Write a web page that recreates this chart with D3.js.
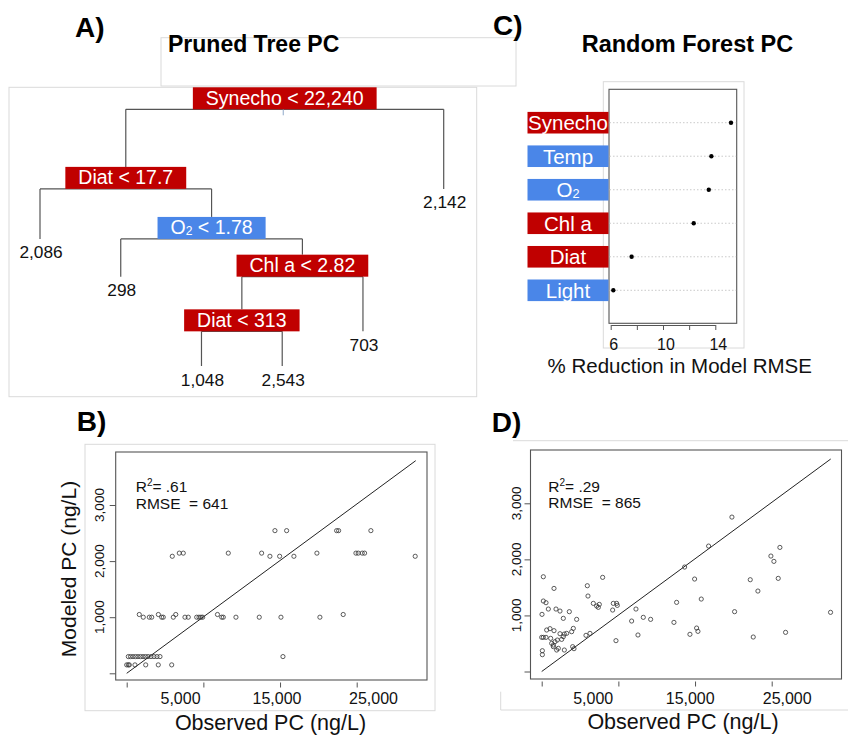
<!DOCTYPE html>
<html><head><meta charset="utf-8">
<script src="https://cdn.jsdelivr.net/npm/d3@7"></script>
<style>
body{margin:0;background:#fff;}
svg{display:block;font-family:"Liberation Sans",Arial,Helvetica,sans-serif;}
</style></head><body>
<svg id="chart" width="848" height="735"></svg>
<script>
// ================= DATA =================
// Panel A – pruned regression tree (pre-order, left child first)
const treeIds        = ["root","diat1","leaf2086","o2","leaf298","chla","diat2","leaf1048","leaf2543","leaf703","leaf2142"];
const treeParents    = [null,"root","diat1","diat1","o2","o2","chla","diat2","diat2","chla","root"];
const treeSplitVar   = ["Synecho","Diat",null,"O2",null,"Chl a","Diat",null,null,null,null];
const treeSplitValue = ["22,240","17.7",null,"1.78",null,"2.82","313",null,null,null,null];
const treeLeafValue  = [null,null,"2,086",null,"298",null,null,"1,048","2,543","703","2,142"];
const treeNodeLevel  = [1.0,0.69,0.495,0.495,0.348,0.348,0.135,0,0,0.135,0.69];

// Panel C – random forest variable importance
const rfVars       = ["Synecho","Temp","O2","Chl a","Diat","Light"];
const rfImportance = [15.2,13.7,13.5,12.35,7.6,6.2];
const rfTicks      = [6,8,10,12,14];
const rfTickLabels = [6,10,14];

// variable class: biological (red) vs environmental (blue)
const bioVars = ["Synecho","Diat","Chl a"];

// Panel B – pruned tree: observed vs modeled PC (ng/L)
const treeObs = [19335,20860,27380,27640,31850,
  6860,7380,13250,17600,24810,29900,30200,30720,31030,
  5945,18680,19950,21810,37630,
  1640,4130,6400,11840,28240,
  2160,2950,3260,4560,4770,6080,7600,8030,9130,9430,9690,9910,12390,12600,14250,17290,20120,25200,
  210,500,820,1150,1470,1800,2130,2450,2780,3170,3560,3950,4340,20380,
  0,210,340,1080,2480,4120,5870];
const treeMod = [2543,2543,2543,2543,2543,
  2142,2142,2142,2142,2142,2142,2142,2142,2142,
  2086,2086,2086,2086,2086,
  1048,1048,1048,1048,1048,
  1000,1000,1000,1000,1000,1000,1000,1000,1000,1000,1000,1000,1000,1000,1000,1000,1000,1000,
  298,298,298,298,298,298,298,298,298,298,298,298,298,298,
  150,150,150,150,150,150,150];

// Panel D – random forest: observed vs modeled PC (ng/L)
const rfObs = [213,1604,213,561,39,865,1864,2386,2820,3603,
  4559,648,1082,1604,2386,2951,3255,3907,4124,0,
  213,561,1169,1300,1517,1734,2038,2603,2820,1517,
  2169,1951,2951,4037,4211,87,87,5950,6037,6732,
  7167,7384,7514,7949,5776,6297,9253,9339,9774,9861,
  9687,11730,12295,12556,13251,14207,17249,17597,18640,19335,
  19944,20205,20378,20813,21769,24811,25159,27201,27593,28201,
  29896,30287,30852,31069,31809,37676];
const rfMod = [1690,1482,1257,1227,1019,1114,1114,1078,948,1067,
  930,740,764,728,674,668,680,710,769,609,
  609,609,591,502,472,532,561,573,621,443,
  413,383,383,443,407,371,300,1530,1346,1215,
  1168,1144,1197,1679,645,680,1096,1215,1215,1179,
  550,900,1114,651,966,930,876,1233,1863,663,
  1649,775,716,1292,2237,2754,1067,1637,615,1435,
  2059,1964,1661,2213,698,1055];

// reference line endpoints (observed, modeled)
const refLineObs = [0, 37700];
const refLineMod = [0, 3790];

// axis ticks
const xTickValues = [0,10000,20000,30000];
const xTickLabels = [5000,15000,25000];
const yTickValues = [0,1000,2000,3000];
const yTickLabels = [1000,2000,3000];
const statsTree = [".61","641"];
const statsRF   = [".29","865"];

// ================= DRAWING =================
const svg = d3.select("#chart");
const RED = "#C00000", BLUE = "#4A86E8", FAINT = "#dadada", INK = "#222";
const colorOf = v => bioVars.includes(v) ? RED : BLUE;
const fmt = d3.format(",");

function faintLine(x0,y0,x1,y1){
  svg.append("line").attr("x1",x0).attr("y1",y0).attr("x2",x1).attr("y2",y1)
    .attr("stroke",FAINT).attr("stroke-width",1);
}
function faintRect(x0,y0,x1,y1){
  svg.append("rect").attr("x",x0).attr("y",y0).attr("width",x1-x0).attr("height",y1-y0)
    .attr("fill","none").attr("stroke",FAINT).attr("stroke-width",1);
}
function varText(sel, name){
  if(name === "O2"){
    sel.append("tspan").text("O");
    sel.append("tspan").attr("font-size","0.62em").attr("dy",1).text("2");
    return -1;
  }
  sel.append("tspan").text(name);
  return 0;
}

// faint frames
faintRect(161,37.7,516,86);
faintRect(9,87.3,476.7,396.7);
faintRect(603.3,81.7,744,348);
faintRect(85,444.3,435,710.7);
faintLine(513,440.7,848,440.7);
faintLine(500.7,710,848,710);
faintLine(500.7,691.7,500.7,710);

// panel letters & titles
[["A)",75,36.7],["C)",493,35],["B)",76.7,431],["D)",491.7,432]].forEach(([t,x,y])=>{
  svg.append("text").attr("x",x).attr("y",y).attr("font-size",28).attr("font-weight","bold")
    .attr("fill","#000").text(t);
});
svg.append("text").attr("x",168).attr("y",51.7).attr("font-size",23).attr("font-weight","bold").text("Pruned Tree PC");
svg.append("text").attr("x",581.7).attr("y",51.7).attr("font-size",23.5).attr("font-weight","bold").text("Random Forest PC");

// ---------- Panel A: tree ----------
const treeTable = treeIds.map((id,i)=>({id, parent:treeParents[i], v:treeSplitVar[i], t:treeSplitValue[i],
  leaf:treeLeafValue[i], level:treeNodeLevel[i]}));
const troot = d3.stratify().id(d=>d.id).parentId(d=>d.parent)(treeTable);
d3.cluster().size([1,1]).separation(()=>1)(troot);
const tx = d3.scaleLinear().domain(d3.extent(troot.leaves(), d=>d.x)).range([40,443.7]);
const ty = d3.scaleLinear().domain([0,1]).range([366,109.3]);
const boxH = 22;
const gA = svg.append("g");
troot.each(n=>{
  if(!n.children) return;
  const yb = ty(n.data.level);
  gA.append("line").attr("x1",tx(n.children[0].x)).attr("x2",tx(n.children[n.children.length-1].x))
    .attr("y1",yb).attr("y2",yb).attr("stroke","#555").attr("stroke-width",1.2);
  n.children.forEach(c=>{
    const yEnd = c.children ? ty(c.data.level)-boxH : ty(c.data.level);
    gA.append("line").attr("x1",tx(c.x)).attr("x2",tx(c.x)).attr("y1",yb).attr("y2",yEnd)
      .attr("stroke","#555").attr("stroke-width",1.2);
  });
});
// small tick under root
gA.append("line").attr("x1",tx(troot.x)-1.5).attr("x2",tx(troot.x)-1.5)
  .attr("y1",ty(troot.data.level)).attr("y2",ty(troot.data.level)+6)
  .attr("stroke","#8fa9c9").attr("stroke-width",1);
// split boxes
troot.each(n=>{
  if(!n.children) return;
  const cx = tx(n.x), yb = ty(n.data.level);
  const g = gA.append("g");
  const rect = g.append("rect");
  const t = g.append("text").attr("x",cx).attr("y",yb-4.5).attr("text-anchor","middle")
    .attr("font-size",19.5).attr("fill","#fff");
  const dyBack = varText(t, n.data.v);
  t.append("tspan").attr("dy",dyBack).text(" < " + n.data.t);
  const w = t.node().getComputedTextLength() + 26;
  rect.attr("x",cx-w/2).attr("y",yb-boxH).attr("width",w).attr("height",boxH).attr("fill",colorOf(n.data.v));
});
// leaves
troot.leaves().forEach(l=>{
  gA.append("text").attr("x",tx(l.x)+1).attr("y",ty(l.data.level)+19.5).attr("text-anchor","middle")
    .attr("font-size",17.3).attr("fill","#111").text(l.data.leaf);
});

// ---------- Panel C: importance dot chart ----------
const cx = d3.scaleLinear().domain([6,14]).range([610.7,715.3]);
const cy = d3.scalePoint().domain(rfVars).range([122.7,290.3]);
const gC = svg.append("g");
gC.append("rect").attr("x",609).attr("y",89.3).attr("width",736.7-609).attr("height",323.3-89.3)
  .attr("fill","none").attr("stroke","#555").attr("stroke-width",1.1);
rfVars.forEach((v,i)=>{
  const y = cy(v);
  gC.append("line").attr("x1",609.5).attr("x2",736.2).attr("y1",y).attr("y2",y)
    .attr("stroke","#c4c4c4").attr("stroke-dasharray","1.5,2").attr("stroke-width",0.9);
  gC.append("rect").attr("x",527.5).attr("y",y-10.8).attr("width",81).attr("height",21.6).attr("fill",colorOf(v));
  const t = gC.append("text").attr("x",568).attr("y",y+7.3).attr("text-anchor","middle")
    .attr("font-size",20.5).attr("fill","#fff");
  varText(t, v);
  gC.append("circle").attr("cx",cx(rfImportance[i])).attr("cy",y).attr("r",2.2).attr("fill","#000");
});
const cAxisScale = cx.copy();
const gCax = gC.append("g").attr("transform","translate(0,325)")
  .call(d3.axisBottom(cAxisScale).tickValues(rfTicks).tickSize(5).tickSizeOuter(0)
    .tickFormat(d=> rfTickLabels.includes(d) ? d : ""));
gCax.select(".domain").attr("stroke","#555");
gCax.selectAll(".tick line").attr("stroke","#555");
gCax.selectAll(".tick text").attr("font-size",16).attr("font-family",null).attr("fill","#111")
  .attr("y",25).attr("dy",0).attr("dx",2.5);
gC.append("text").attr("x",679.7).attr("y",372.7).attr("text-anchor","middle").attr("font-size",20.5)
  .attr("fill","#111").text("% Reduction in Model RMSE");

// ---------- Scatter panels ----------
function scatter(o){
  const g = svg.append("g");
  const x = d3.scaleLinear().domain([0,30000]).range(o.xr);
  const y = d3.scaleLinear().domain([0,3000]).range(o.yr);
  const xl = d3.scaleLinear().domain([5000,25000]).range(o.xlab);
  const [bx0,by0,bx1,by1] = o.box;
  g.append("rect").attr("x",bx0).attr("y",by0).attr("width",bx1-bx0).attr("height",by1-by0)
    .attr("fill","none").attr("stroke","#555").attr("stroke-width",1.1);
  // x ticks
  const gx = g.append("g").attr("transform",`translate(0,${by1+2.5})`)
    .call(d3.axisBottom(x).tickValues(xTickValues).tickSize(5).tickFormat(""));
  gx.select(".domain").remove();
  gx.selectAll(".tick line").attr("stroke","#555");
  // x tick labels
  const gxl = g.append("g").attr("transform",`translate(0,${o.xLabBase})`)
    .call(d3.axisBottom(xl).tickValues(xTickLabels).tickSize(0).tickFormat(fmt));
  gxl.select(".domain").remove();
  gxl.selectAll(".tick text").attr("y",0).attr("dy",0).attr("font-size",16).attr("font-family",null).attr("fill","#111");
  // y ticks
  const gy = g.append("g").attr("transform",`translate(${bx0},0)`)
    .call(d3.axisLeft(y).tickValues(yTickValues).tickSize(6).tickFormat(""));
  gy.select(".domain").remove();
  gy.selectAll(".tick line").attr("stroke","#555");
  // y tick labels (rotated)
  yTickLabels.forEach(v=>{
    g.append("text").attr("transform",`translate(${o.yLabBase},${y(v)}) rotate(-90)`)
      .attr("text-anchor","middle").attr("font-size",13.5).attr("fill","#111").text(fmt(v));
  });
  // reference line
  g.append("path").datum(refLineObs.map((v,i)=>[v,refLineMod[i]]))
    .attr("d",d3.line().x(d=>x(d[0])).y(d=>y(d[1])))
    .attr("stroke","#222").attr("stroke-width",1).attr("fill","none");
  // points
  g.selectAll("circle.pt").data(o.obs.map((v,i)=>[v,o.mod[i]])).join("circle").attr("class","pt")
    .attr("cx",d=>x(d[0])).attr("cy",d=>y(d[1])).attr("r",2.1)
    .attr("fill","none").attr("stroke","#333").attr("stroke-width",0.8);
  // stats
  const s1 = g.append("text").attr("x",o.statX).attr("y",o.statY[0]).attr("font-size",15.5).attr("fill","#111");
  s1.append("tspan").text("R");
  s1.append("tspan").attr("font-size",10).attr("dy",-6).text("2");
  s1.append("tspan").attr("dy",6).text("= " + o.stats[0]);
  g.append("text").attr("x",o.statX).attr("y",o.statY[1]).attr("font-size",15.5).attr("fill","#111")
    .style("white-space","pre").text("RMSE  = " + o.stats[1]);
  // axis titles
  g.append("text").attr("x",o.xTitle[0]).attr("y",o.xTitle[1]).attr("text-anchor","middle")
    .attr("font-size",21.5).attr("fill","#111").text("Observed PC (ng/L)");
  if(o.yTitle){
    g.append("text").attr("transform",`translate(${o.yTitle[0]},${o.yTitle[1]}) rotate(-90)`)
      .attr("text-anchor","middle").attr("font-size",21).attr("fill","#111").text("Modeled PC (ng/L)");
  }
}

scatter({obs:treeObs, mod:treeMod, xr:[126.7,356.7], yr:[673.3,505], xlab:[180,373],
  box:[115.7,452,427,680], xLabBase:704.3, yLabBase:103.5, stats:statsTree,
  statX:135.7, statY:[491.7,509.3], xTitle:[270.5,730], yTitle:[76,569]});
scatter({obs:rfObs, mod:rfMod, xr:[541.7,771.7], yr:[671.5,503.3], xlab:[592.7,786.7],
  box:[530.5,450,841.5,679], xLabBase:704.3, yLabBase:520.5, stats:statsRF,
  statX:548.3, statY:[491.7,508.3], xTitle:[683,729], yTitle:null});
</script>
</body></html>
